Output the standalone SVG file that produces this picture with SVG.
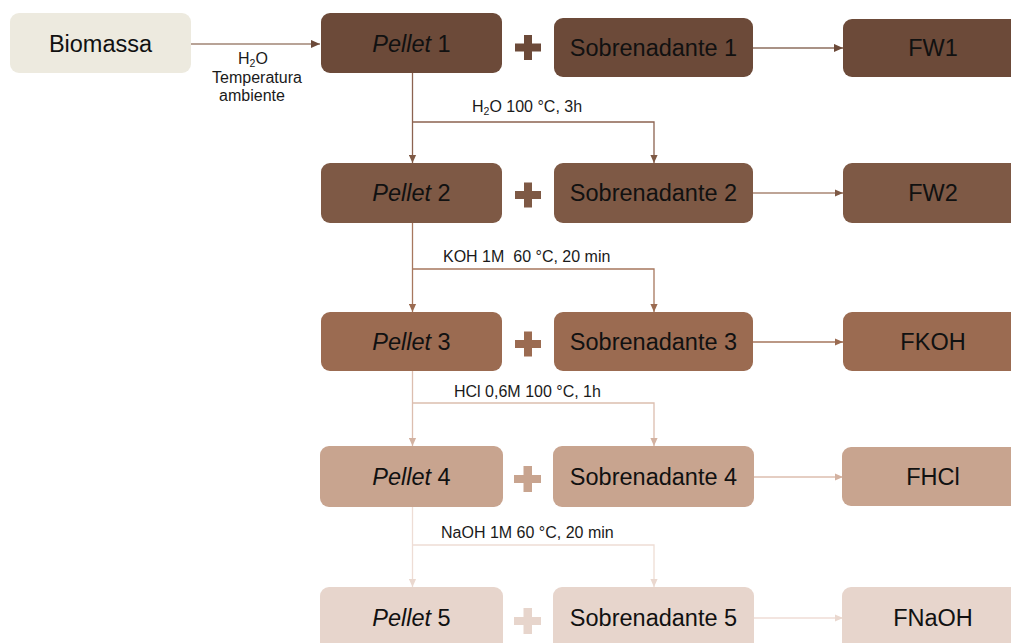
<svg xmlns="http://www.w3.org/2000/svg" width="1011" height="643" viewBox="0 0 1011 643">
<style>
.t{font-family:"Liberation Sans",Arial,sans-serif;font-size:23.5px;fill:#111;text-anchor:middle}
.i{font-style:italic}
.l{font-family:"Liberation Sans",Arial,sans-serif;font-size:16px;fill:#1a1a1a}
.c{fill:none;stroke-width:1.3}
</style>
<defs>
<marker id="a0" markerUnits="userSpaceOnUse" markerWidth="9" markerHeight="9" viewBox="0 0 10 10" refX="10" refY="5" orient="auto"><path d="M0,0.5 L10,5 L0,9.5 z" fill="#6C4A39"/></marker>
<marker id="a1" markerUnits="userSpaceOnUse" markerWidth="8" markerHeight="8" viewBox="0 0 10 10" refX="10" refY="5" orient="auto"><path d="M0,0.5 L10,5 L0,9.5 z" fill="#7E5945"/></marker>
<marker id="a2" markerUnits="userSpaceOnUse" markerWidth="8" markerHeight="8" viewBox="0 0 10 10" refX="10" refY="5" orient="auto"><path d="M0,0.5 L10,5 L0,9.5 z" fill="#9B6B51"/></marker>
<marker id="a3" markerUnits="userSpaceOnUse" markerWidth="8" markerHeight="8" viewBox="0 0 10 10" refX="10" refY="5" orient="auto"><path d="M0,0.5 L10,5 L0,9.5 z" fill="#D3B2A1"/></marker>
<marker id="a4" markerUnits="userSpaceOnUse" markerWidth="8" markerHeight="8" viewBox="0 0 10 10" refX="10" refY="5" orient="auto"><path d="M0,0.5 L10,5 L0,9.5 z" fill="#EAD8CF"/></marker>
</defs>

<g id="connectors">
<path class="c" d="M191,44 H320" stroke="#A08575" marker-end="url(#a0)"/>
<path class="c" d="M412.5,73 V163" stroke="#8C6350" marker-end="url(#a1)"/>
<path class="c" d="M412.5,122 H654 V163" stroke="#8C6350" marker-end="url(#a1)"/>
<path class="c" d="M412.5,223 V312" stroke="#A7775E" marker-end="url(#a2)"/>
<path class="c" d="M412.5,269 H654 V312" stroke="#A7775E" marker-end="url(#a2)"/>
<path class="c" d="M412.5,371 V446" stroke="#DCBEAF" marker-end="url(#a3)"/>
<path class="c" d="M412.5,403 H654 V446" stroke="#DCBEAF" marker-end="url(#a3)"/>
<path class="c" d="M412.5,507 V587" stroke="#EEDDD5" marker-end="url(#a4)"/>
<path class="c" d="M412.5,545 H654 V587" stroke="#EEDDD5" marker-end="url(#a4)"/>
<path class="c" d="M753,48 H843" stroke="#8C6E5E" marker-end="url(#a0)"/>
<path class="c" d="M753,193 H843" stroke="#A98673" marker-end="url(#a1)"/>
<path class="c" d="M753,342 H843" stroke="#A5765D" marker-end="url(#a2)"/>
<path class="c" d="M753,477 H843" stroke="#DDBEAF" marker-end="url(#a3)"/>
<path class="c" d="M753,618 H843" stroke="#EFDDD6" marker-end="url(#a4)"/>
<text class="l"><tspan x="238" y="64">H</tspan><tspan font-size="10.5" dy="2.5">2</tspan><tspan dy="-2.5">O</tspan></text>
<text class="l" x="257" y="83" text-anchor="middle">Temperatura</text>
<text class="l" x="252" y="101" text-anchor="middle">ambiente</text>
<text class="l"><tspan x="472" y="112">H</tspan><tspan font-size="10.5" dy="3">2</tspan><tspan dy="-3">O 100 °C, 3h</tspan></text>
<text class="l" x="443" y="262" xml:space="preserve">KOH 1M  60 °C, 20 min</text>
<text class="l" x="454" y="397">HCl 0,6M 100 °C, 1h</text>
<text class="l" x="441" y="538">NaOH 1M 60 °C, 20 min</text>
</g>

<g id="biomassa"><rect x="10" y="13" width="181" height="60" rx="9" fill="#EDEADF"/><text class="t" x="100.5" y="52">Biomassa</text></g>

<g id="pellet1"><rect x="321" y="13" width="181" height="60" rx="9" fill="#6C4A39"/><text class="t" x="411.5" y="52"><tspan class="i">Pellet</tspan> 1</text></g>
<g id="plus1"><path d="M515,43.5 H541 V51.5 H515 Z M524,35 H532 V60 H524 Z" fill="#6C4A39"/></g>
<g id="sobrenadante1"><rect x="554" y="18" width="199" height="59" rx="9" fill="#6C4A39"/><text class="t" x="653.5" y="56">Sobrenadante 1</text></g>
<g id="fw1"><rect x="843" y="19" width="181" height="58" rx="9" fill="#6C4A39"/><text class="t" x="933" y="56">FW1</text></g>

<g id="pellet2"><rect x="321" y="163" width="181" height="60" rx="9" fill="#7E5945"/><text class="t" x="411.5" y="201"><tspan class="i">Pellet</tspan> 2</text></g>
<g id="plus2"><path d="M515,191 H541 V199 H515 Z M524,182.5 H532 V207.5 H524 Z" fill="#7E5945"/></g>
<g id="sobrenadante2"><rect x="554" y="163" width="199" height="60" rx="9" fill="#7E5945"/><text class="t" x="653.5" y="201">Sobrenadante 2</text></g>
<g id="fw2"><rect x="843" y="163" width="181" height="60" rx="9" fill="#7E5945"/><text class="t" x="933" y="201">FW2</text></g>

<g id="pellet3"><rect x="321" y="312" width="181" height="59" rx="9" fill="#9B6B51"/><text class="t" x="411.5" y="350"><tspan class="i">Pellet</tspan> 3</text></g>
<g id="plus3"><path d="M515,340 H541 V348 H515 Z M524,331.5 H532 V356.5 H524 Z" fill="#9B6B51"/></g>
<g id="sobrenadante3"><rect x="554" y="312" width="199" height="59" rx="9" fill="#9B6B51"/><text class="t" x="653.5" y="350">Sobrenadante 3</text></g>
<g id="fw3"><rect x="843" y="312" width="181" height="59" rx="9" fill="#9B6B51"/><text class="t" x="933" y="350">FKOH</text></g>

<g id="pellet4"><rect x="320" y="446" width="183" height="61" rx="9" fill="#C8A48F"/><text class="t" x="411.5" y="485"><tspan class="i">Pellet</tspan> 4</text></g>
<g id="plus4"><path d="M514,475 H541 V483 H514 Z M523.5,466 H532 V492 H523.5 Z" fill="#C8A48F"/></g>
<g id="sobrenadante4"><rect x="553" y="446" width="201" height="61" rx="9" fill="#C8A48F"/><text class="t" x="653.5" y="485">Sobrenadante 4</text></g>
<g id="fw4"><rect x="842" y="447" width="182" height="59" rx="9" fill="#C8A48F"/><text class="t" x="933" y="485">FHCl</text></g>

<g id="pellet5"><rect x="320" y="587" width="183" height="70" rx="9" fill="#E7D5CC"/><text class="t" x="411.5" y="626"><tspan class="i">Pellet</tspan> 5</text></g>
<g id="plus5"><path d="M514,617 H541 V625 H514 Z M523.5,608 H532 V634 H523.5 Z" fill="#E7D5CC"/></g>
<g id="sobrenadante5"><rect x="553" y="587" width="201" height="70" rx="9" fill="#E7D5CC"/><text class="t" x="653.5" y="626">Sobrenadante 5</text></g>
<g id="fw5"><rect x="842" y="587" width="182" height="70" rx="9" fill="#E7D5CC"/><text class="t" x="933" y="626">FNaOH</text></g>
</svg>
